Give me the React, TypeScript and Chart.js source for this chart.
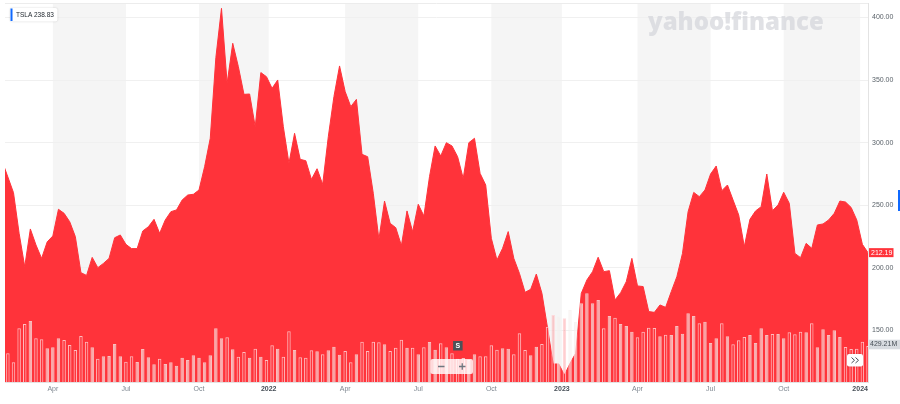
import React, { useEffect, useRef } from "react";
import { Chart, registerables } from "chart.js";

Chart.register(...registerables);

// Weekly closes (split-adjusted), week 0 = week of 1 Feb 2021, last = week of 15 Jan 2024
const closes: number[] = [
  285, 272.6, 260.1, 227.6, 201, 231.1, 218.3, 207.6, 220.8, 225.5,
  246.8, 243.6, 236.9, 225, 196.2, 194, 208.4, 200.2, 203.6, 207.6,
  224.1, 226.3, 218.8, 215.4, 215.4, 229.5, 232.9, 238.8, 227.6, 238.3,
  244.9, 246.3, 254.2, 258.2, 258.8, 262.2, 280.9, 303.5, 368, 407.3,
  347.4, 379.4, 360.7, 338.6, 338.9, 312.8, 356, 352.7, 343.4, 350.1,
  312.8, 283.5, 307.5, 286.7, 285.6, 270.7, 279.2, 266.7, 304.8, 336.8,
  361.3, 340.8, 328.8, 334.6, 290.7, 288.8, 259.6, 222.8, 253.4, 235.6,
  232.1, 217.8, 245.5, 228.9, 250.8, 241.5, 272.9, 297.4, 289.4, 300,
  297.4, 288.8, 271.5, 300, 303.5, 275.5, 266.2, 223.6, 206.3, 215.6,
  229, 207.6, 195.6, 180.5, 182.9, 195.1, 179.7, 152, 123.2, 123.3,
  114.4, 123.8, 131.8, 179.7, 190.4, 197, 208.5, 197, 197.8, 174.4,
  180.2, 189, 207.6, 185.6, 185.1, 165.1, 164.5, 170.4, 168.5, 181,
  193, 211.6, 244.9, 260.3, 256.9, 262.2, 275, 281.4, 261.7, 266.2,
  254.2, 242.3, 217, 238.8, 245.5, 248.9, 275, 245.7, 250.2, 260.4,
  251.6, 211.6, 208.2, 219.6, 215.6, 234.3, 235.1, 238.3, 243.6, 253.4,
  252.6, 248.3, 238.3, 218.8, 212.19,
];

// Weekly volume, millions of shares
const volumesM: number[] = [
  350, 342, 235, 640, 691, 727, 521, 509, 402, 414,
  521, 501, 441, 381, 548, 480, 414, 278, 306, 310,
  453, 306, 242, 306, 238, 393, 294, 211, 278, 215,
  235, 194, 290, 262, 318, 290, 235, 318, 640, 521,
  533, 390, 302, 358, 290, 397, 302, 262, 437, 397,
  302, 604, 381, 294, 290, 378, 366, 330, 378, 421,
  325, 370, 235, 330, 480, 370, 480, 473, 449, 370,
  409, 504, 409, 409, 330, 414, 477, 385, 461, 414,
  342, 278, 286, 262, 330, 306, 306, 437, 385, 402,
  397, 330, 580, 381, 318, 421, 453, 659, 799, 778,
  759, 858, 715, 938, 1057, 938, 977, 640, 787, 767,
  691, 668, 600, 533, 600, 647, 644, 545, 564, 560,
  668, 576, 819, 787, 700, 719, 465, 521, 700, 545,
  449, 497, 536, 560, 465, 640, 560, 572, 572, 521,
  592, 569, 600, 592, 700, 414, 628, 560, 616, 536,
  417, 393, 397, 480, 429.21,
];

// x tick positions (in weeks from the first point) and their labels
const tickWeeks: number[] = [9, 22, 35, 47.4, 61, 74, 87, 99.55, 113, 126, 139, 152.6];
const tickLabels: string[] = ["Apr", "Jul", "Oct", "2022", "Apr", "Jul", "Oct", "2023", "Apr", "Jul", "Oct", "2024"];
const yearTick: boolean[] = [false, false, false, true, false, false, false, true, false, false, false, true];
const priceTicks: number[] = [150, 200, 250, 300, 350, 400];

const symbol = "TSLA";
const legendValue = "238.83";
const volumeLabel = "429.21M";
const splitWeek = 81;

const RED = "#ff333a";
const FONT = "'Liberation Sans', Arial, sans-serif";

function isUp(i: number): boolean {
  if (i === 0) return false;
  return closes[i] >= closes[i - 1];
}

function roundRect(ctx: CanvasRenderingContext2D, x: number, y: number, w: number, h: number, r: number) {
  ctx.beginPath();
  ctx.moveTo(x + r, y);
  ctx.lineTo(x + w - r, y);
  ctx.quadraticCurveTo(x + w, y, x + w, y + r);
  ctx.lineTo(x + w, y + h - r);
  ctx.quadraticCurveTo(x + w, y + h, x + w - r, y + h);
  ctx.lineTo(x + r, y + h);
  ctx.quadraticCurveTo(x, y + h, x, y + h - r);
  ctx.lineTo(x, y + r);
  ctx.quadraticCurveTo(x, y, x + r, y);
  ctx.closePath();
}

const decorPlugin = {
  id: "decor",
  beforeDraw(chart: any) {
    const { ctx, chartArea: a, scales } = chart;
    const xs = scales.x;
    ctx.save();
    ctx.fillStyle = "#ffffff";
    ctx.fillRect(0, 0, chart.width, chart.height);
    ctx.fillStyle = "#f5f5f5";
    for (let k = 0; k + 1 < tickWeeks.length; k += 2) {
      const x0 = Math.max(a.left, xs.getPixelForValue(tickWeeks[k]));
      const x1 = Math.min(a.right, xs.getPixelForValue(tickWeeks[k + 1]));
      ctx.fillRect(x0, a.top, x1 - x0, a.bottom - a.top);
    }
    ctx.restore();
  },
  beforeDatasetsDraw(chart: any) {
    const { ctx, chartArea: a } = chart;
    ctx.save();
    ctx.strokeStyle = "#ececec";
    ctx.lineWidth = 1;
    ctx.beginPath();
    ctx.moveTo(a.left, a.top + 0.5);
    ctx.lineTo(a.right, a.top + 0.5);
    ctx.stroke();
    // watermark
    ctx.fillStyle = "rgba(212,214,219,0.72)";
    ctx.font = `800 24px 'Open Sans', ${FONT}`;
    ctx.textBaseline = "alphabetic";
    ctx.textAlign = "left";
    ctx.fillText("yahoo!finance", 648, 30);
    ctx.restore();
  },
  afterDraw(chart: any) {
    const { ctx, chartArea: a, scales } = chart;
    const ys = scales.y;
    const vs = scales.vol;
    const xs = scales.x;
    ctx.save();
    // legend box
    ctx.shadowColor = "rgba(0,0,0,0.18)";
    ctx.shadowBlur = 2;
    ctx.fillStyle = "#ffffff";
    roundRect(ctx, 10, 8, 47.5, 13.5, 2);
    ctx.fill();
    ctx.shadowBlur = 0;
    ctx.shadowColor = "transparent";
    ctx.fillStyle = "#0f69ff";
    ctx.fillRect(10.5, 8.5, 2, 12.5);
    ctx.fillStyle = "#232a31";
    ctx.font = `6.5px ${FONT}`;
    ctx.textBaseline = "middle";
    ctx.textAlign = "left";
    ctx.fillText(symbol, 16, 15);
    ctx.fillText(legendValue, 34, 15);

    // last price label
    const last = closes.length - 1;
    const py = ys.getPixelForValue(closes[last]);
    ctx.fillStyle = RED;
    ctx.fillRect(a.right + 1, py - 4.5, 24.5, 9);
    ctx.fillStyle = "#ffffff";
    ctx.font = `7px ${FONT}`;
    ctx.fillText(closes[last].toFixed(2), a.right + 3, py);

    // last volume label
    const vy = vs.getPixelForValue(volumesM[last]) - 1.5;
    ctx.fillStyle = "#d7dbe0";
    ctx.fillRect(a.right + 1, vy - 4.8, 40, 9.6);
    ctx.fillStyle = "#464e56";
    ctx.fillText(volumeLabel, a.right + 2, vy);

    // blue marker at right edge
    ctx.fillStyle = "#0f69ff";
    ctx.fillRect(898, 190, 2, 21);

    // split marker
    const sx = xs.getPixelForValue(splitWeek);
    ctx.fillStyle = "#4d5258";
    ctx.fillRect(sx - 4.5, 341, 9.5, 9.5);
    ctx.fillStyle = "#ffffff";
    ctx.font = `bold 7px ${FONT}`;
    ctx.textAlign = "center";
    ctx.fillText("S", sx + 0.3, 346);

    // zoom controls
    ctx.fillStyle = "rgba(255,255,255,0.82)";
    roundRect(ctx, 430.5, 359, 42.5, 15, 2);
    ctx.fill();
    ctx.strokeStyle = "#6e7780";
    ctx.lineWidth = 1.3;
    ctx.beginPath();
    ctx.moveTo(438, 366.5);
    ctx.lineTo(444.5, 366.5);
    ctx.moveTo(459, 366.5);
    ctx.lineTo(465.5, 366.5);
    ctx.moveTo(462.25, 363.2);
    ctx.lineTo(462.25, 369.8);
    ctx.stroke();

    // scroll button
    ctx.fillStyle = "#ffffff";
    ctx.shadowColor = "rgba(0,0,0,0.2)";
    ctx.shadowBlur = 2;
    roundRect(ctx, 847, 354, 16, 12.5, 2);
    ctx.fill();
    ctx.shadowBlur = 0;
    ctx.shadowColor = "transparent";
    ctx.strokeStyle = "#464e56";
    ctx.lineWidth = 1;
    ctx.beginPath();
    ctx.moveTo(851.5, 357.5);
    ctx.lineTo(854.5, 360.3);
    ctx.lineTo(851.5, 363);
    ctx.moveTo(855.5, 357.5);
    ctx.lineTo(858.5, 360.3);
    ctx.lineTo(855.5, 363);
    ctx.stroke();
    ctx.restore();
  },
};

export default function App() {
  const ref = useRef<HTMLCanvasElement | null>(null);

  useEffect(() => {
    document.body.style.margin = "0";
    const canvas = ref.current;
    if (!canvas) return;
    const chart = new Chart(canvas, {
      type: "line",
      data: {
        datasets: [
          {
            type: "bar",
            label: "Volume",
            data: volumesM.map((v, i) => ({ x: i, y: v })),
            yAxisID: "vol",
            xAxisID: "x",
            order: 0,
            backgroundColor: (c: any) =>
              isUp(c.dataIndex) ? "rgba(246,240,238,0.66)" : "rgba(255,60,68,0.25)",
            borderColor: (c: any) =>
              isUp(c.dataIndex) ? "rgba(246,240,238,0.75)" : "rgba(255,212,214,0.85)",
            borderWidth: 1,
            barPercentage: 0.62,
            categoryPercentage: 1,
          } as any,
          {
            type: "line",
            label: symbol,
            data: closes.map((v, i) => ({ x: i, y: v })),
            yAxisID: "y",
            xAxisID: "x",
            order: 1,
            borderColor: RED,
            backgroundColor: RED,
            borderWidth: 1,
            fill: "start",
            pointRadius: 0,
            tension: 0,
          } as any,
        ],
      },
      options: {
        animation: false,
        responsive: false,
        maintainAspectRatio: false,
        events: [],
        layout: { padding: { left: 5, top: 3, right: 0, bottom: 0 } },
        plugins: {
          legend: { display: false },
          tooltip: { enabled: false },
        },
        scales: {
          x: {
            type: "linear",
            offset: false,
            min: 0.49,
            max: 154,
            grid: { display: false, drawTicks: false, offset: false },
            border: { display: true, color: "#e3e3e3" },
            afterBuildTicks: (s: any) => {
              s.ticks = tickWeeks.map((v) => ({ value: v }));
            },
            afterFit: (s: any) => {
              s.height = 22;
              s.paddingLeft = 0;
              s.paddingRight = 0;
            },
            ticks: {
              autoSkip: false,
              maxRotation: 0,
              padding: 3,
              callback: (_v: any, i: number) => tickLabels[i],
              color: (c: any) => (yearTick[c.index] ? "#464e56" : "#7f8891"),
              font: (c: any) => ({
                family: FONT,
                size: 7,
                weight: yearTick[c.index] ? "bold" : "normal",
              }),
            },
          },
          y: {
            type: "linear",
            position: "right",
            min: 108.87,
            max: 411.58,
            grid: { color: "#f0f0f0", drawTicks: false },
            border: { display: true, color: "#e3e3e3" },
            afterBuildTicks: (s: any) => {
              s.ticks = priceTicks.map((v) => ({ value: v }));
            },
            afterFit: (s: any) => {
              s.width = 32;
              s.paddingTop = 0;
              s.paddingBottom = 0;
            },
            ticks: {
              padding: 4,
              color: "#5b636a",
              font: { family: FONT, size: 7 },
              callback: (v: any) => Number(v).toFixed(2),
            },
          },
          vol: {
            type: "linear",
            display: false,
            min: 0,
            max: 4518,
          },
        },
      },
      plugins: [decorPlugin],
    } as any);
    return () => chart.destroy();
  }, []);

  return (
    <div style={{ width: 900, height: 404, position: "relative" }}>
      <canvas ref={ref} width={900} height={404} style={{ display: "block" }} />
    </div>
  );
}
